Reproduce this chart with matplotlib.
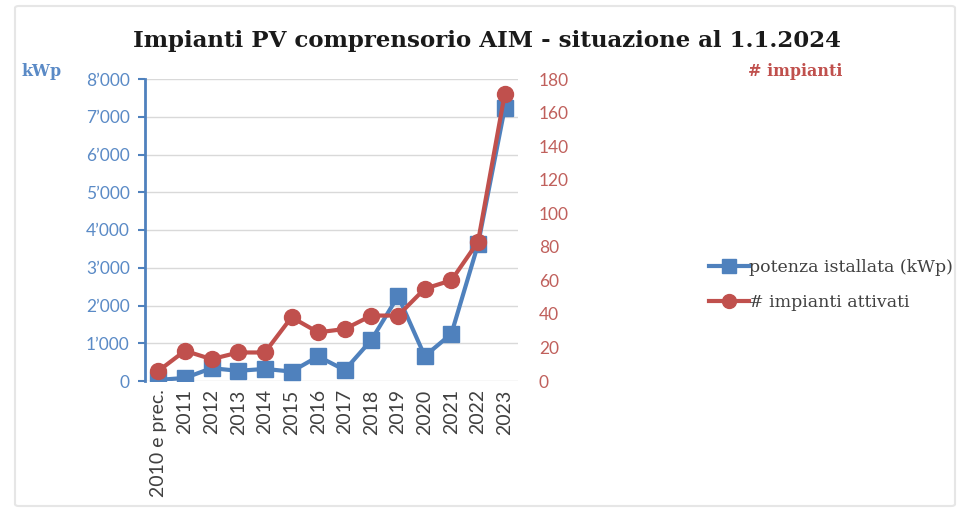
import matplotlib.pyplot as plt
from matplotlib.ticker import FuncFormatter
from matplotlib.lines import Line2D
from matplotlib.patches import FancyBboxPatch

# --- dati ---
anni = ['2010 e prec.', '2011', '2012', '2013', '2014', '2015', '2016',
        '2017', '2018', '2019', '2020', '2021', '2022', '2023']
potenza_kwp = [30, 80, 340, 270, 320, 250, 650, 290, 1090, 2250, 660, 1250, 3620, 7220]
n_impianti = [6, 18, 13, 17, 17, 38, 29, 31, 39, 39, 55, 60, 83, 171]

blu = '#4F81BD'
rosso = '#C0504D'
blu_txt = '#5A8AC6'
rosso_txt = '#C0605C'
grigio_txt = '#404040'

fig = plt.figure(figsize=(9.58, 5.12), dpi=100)
# cornice leggera
fig.patches.append(FancyBboxPatch((15 / 958, 6 / 512), 940 / 958, 500 / 512,
                                  boxstyle='round,pad=0,rounding_size=0.004',
                                  transform=fig.transFigure, fill=False,
                                  edgecolor='#e6e6e6', linewidth=1.5))

ax = fig.add_axes([145 / 958, 1 - 381 / 512, 373 / 958, 302 / 512])
ax2 = ax.twinx()

x = list(range(len(anni)))
ax.plot(x, potenza_kwp, color=blu, linewidth=3.0, marker='s', markersize=11, zorder=3)
ax2.plot(x, n_impianti, color=rosso, linewidth=3.0, marker='o', markersize=11.5, zorder=3)

ax.set_xlim(-0.5, len(anni) - 0.5)
ax.set_ylim(0, 8000)
ax2.set_ylim(0, 180)
ax.set_yticks(range(0, 8001, 1000))
ax2.set_yticks(range(0, 181, 20))
ax.yaxis.set_major_formatter(FuncFormatter(lambda v, p: f'{int(v):,}'.replace(',', '\u2019')))

ax.grid(axis='y', color='#d9d9d9', linewidth=1)
ax.set_axisbelow(True)
for s in ['top', 'right', 'bottom']:
    ax.spines[s].set_visible(False)
for s in ['top', 'right', 'bottom', 'left']:
    ax2.spines[s].set_visible(False)
ax.spines['left'].set_color(blu)
ax.spines['left'].set_linewidth(2)

ax.set_xticks(x)
ax.set_xticklabels(anni, rotation=90, fontsize=14, family='Lato', color=grigio_txt)
ax.tick_params(axis='x', length=0, pad=6)
ax.tick_params(axis='y', colors=blu, labelcolor=blu_txt, labelsize=12.5, length=5, width=1.5, pad=6)
ax2.tick_params(axis='y', length=0, labelcolor=rosso_txt, labelsize=12.5, pad=15)
for t in ax.get_yticklabels() + ax2.get_yticklabels():
    t.set_family('Lato')

fig.text(0.508, 0.92, 'Impianti PV comprensorio AIM - situazione al 1.1.2024',
         ha='center', va='center', fontsize=16.5, fontweight='bold', family='DejaVu Serif', color='#1a1a1a')
fig.text(42 / 958, 1 - 72 / 512, 'kWp', ha='center', va='center', fontsize=11.5,
         fontweight='bold', family='DejaVu Serif', color=blu_txt)
fig.text(795 / 958, 1 - 72 / 512, '# impianti', ha='center', va='center', fontsize=11.5,
         fontweight='bold', family='DejaVu Serif', color=rosso)

handles = [Line2D([], [], color=blu, linewidth=3.0, marker='s', markersize=10),
           Line2D([], [], color=rosso, linewidth=3.0, marker='o', markersize=10)]
fig.legend(handles, ['potenza istallata (kWp)', '# impianti attivati'],
           loc='center left', bbox_to_anchor=(693 / 958, 1 - 285 / 512), frameon=False,
           prop={'family': 'DejaVu Serif', 'size': 12.5}, labelcolor=grigio_txt,
           handlelength=2.3, handletextpad=0.05, labelspacing=1.05)

fig.savefig('out.png', dpi=100)
